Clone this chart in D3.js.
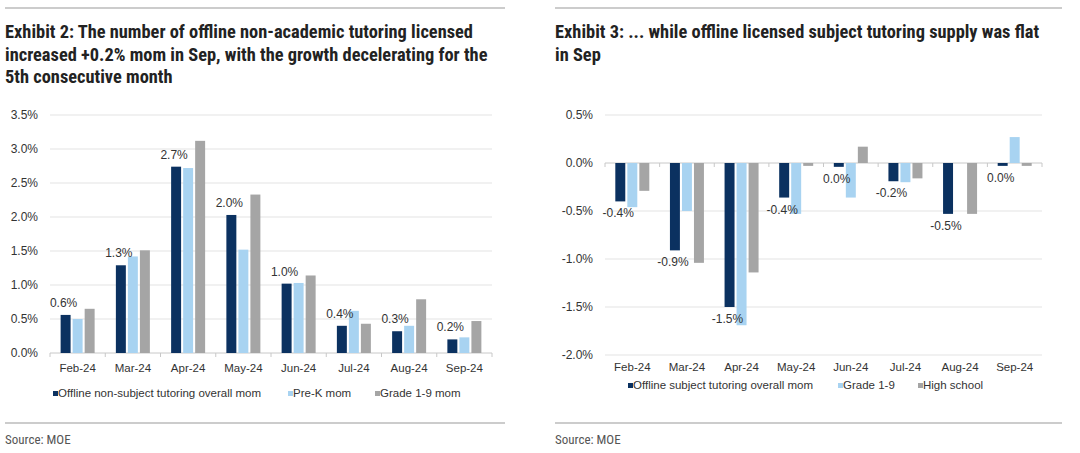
<!DOCTYPE html>
<html>
<head>
<meta charset="utf-8">
<script src="https://cdn.jsdelivr.net/npm/d3@7"></script>
<style>
  body { margin: 0; background: #fff; }
  svg { display: block; }
  .title { font-family: "Liberation Sans Narrow", "Roboto Condensed", "DejaVu Sans Condensed", "Liberation Sans", sans-serif; font-weight: bold; font-size: 18.4px; fill: #222; }
  .src { font-family: "Liberation Sans Narrow", "Roboto Condensed", "DejaVu Sans Condensed", "Liberation Sans", sans-serif; font-size: 13px; fill: #555; }
  .lbl { font-family: "Liberation Sans", Arial, sans-serif; font-size: 11.5px; fill: #333; }
  .tick { font-family: "Liberation Sans", Arial, sans-serif; font-size: 12px; fill: #333; }
</style>
</head>
<body>
<script>
// values, in percent
var months = ["Feb-24", "Mar-24", "Apr-24", "May-24", "Jun-24", "Jul-24", "Aug-24", "Sep-24"];

var leftSeries = ["Offline non-subject tutoring overall mom", "Pre-K mom", "Grade 1-9 mom"];
var leftOverall = [0.56, 1.29, 2.74, 2.03, 1.02, 0.40, 0.32, 0.20];
var leftPreK    = [0.50, 1.42, 2.72, 1.52, 1.03, 0.62, 0.40, 0.23];
var leftGrade19 = [0.65, 1.51, 3.12, 2.33, 1.14, 0.43, 0.79, 0.47];
var leftTicks = [0, 0.5, 1.0, 1.5, 2.0, 2.5, 3.0, 3.5];

var rightSeries = ["Offline subject tutoring overall mom", "Grade 1-9", "High school"];
var rightOverall = [-0.40, -0.91, -1.50, -0.36, -0.04, -0.19, -0.53, -0.03];
var rightGrade19 = [-0.46, -0.50, -1.69, -0.53, -0.36, -0.20, 0.00, 0.27];
var rightHigh    = [-0.29, -1.04, -1.14, -0.03, 0.17, -0.16, -0.53, -0.03];
var rightTicks = [0.5, 0, -0.5, -1.0, -1.5, -2.0];

var colors = ["#0b3160", "#a8d3f1", "#a5a5a5"];

var loc = d3.formatLocale({decimal: ".", thousands: ",", grouping: [3], currency: ["", ""], minus: "-"});
var pct = loc.format(".1%");

var svg = d3.select("body").append("svg")
    .attr("width", 1080)
    .attr("height", 453);

function drawPanel(opt) {
    var g = svg.append("g");

    // rules above and below
    g.append("line").attr("x1", opt.ruleX0).attr("x2", opt.ruleX1).attr("y1", 8).attr("y2", 8)
        .attr("stroke", "#999").attr("stroke-width", 1);
    g.append("line").attr("x1", opt.ruleX0).attr("x2", opt.ruleX1).attr("y1", 423).attr("y2", 423)
        .attr("stroke", "#999").attr("stroke-width", 1);

    // title
    var t = g.append("text").attr("class", "title");
    opt.title.forEach(function(s, i) {
        t.append("tspan").attr("x", opt.ruleX0).attr("y", 38 + i * 22.5).text(s);
    });

    g.append("text").attr("class", "src").attr("x", opt.ruleX0).attr("y", 444).text("Source: MOE");

    var x0 = d3.scaleBand().domain(months).range([opt.left, opt.right]);
    var bw = x0.bandwidth();
    var x1 = d3.scaleBand().domain([0, 1, 2]).range([(bw - 34) / 2, (bw + 34) / 2]).paddingInner(0.17);
    var y = d3.scaleLinear().domain(opt.domain).range([opt.bottom, opt.top]);

    // gridlines
    g.append("g").selectAll("line").data(opt.ticks).enter().append("line")
        .attr("x1", opt.left).attr("x2", opt.right)
        .attr("y1", function(d) { return y(d); }).attr("y2", function(d) { return y(d); })
        .attr("stroke", function(d) { return d === 0 ? "#c8c8c8" : "#e3e3e3"; })
        .attr("stroke-width", 1);

    // ticks along the zero line
    g.append("g").selectAll("line").data(d3.range(months.length + 1)).enter().append("line")
        .attr("x1", function(i) { return opt.left + i * bw; })
        .attr("x2", function(i) { return opt.left + i * bw; })
        .attr("y1", y(0)).attr("y2", y(0) + 4)
        .attr("stroke", "#c8c8c8");

    // y tick labels
    g.append("g").selectAll("text").data(opt.ticks).enter().append("text")
        .attr("class", "tick")
        .attr("x", opt.left - 12)
        .attr("y", function(d) { return y(d) + 4; })
        .attr("text-anchor", "end")
        .text(function(d) { return pct(d / 100); });

    // bars
    opt.values.forEach(function(vals, s) {
        g.append("g").selectAll("rect").data(vals).enter().append("rect")
            .attr("x", function(d, i) { return x0(months[i]) + x1(s); })
            .attr("width", x1.bandwidth())
            .attr("y", function(d) { return y(Math.max(0, d)); })
            .attr("height", function(d) { return Math.abs(y(d) - y(0)); })
            .attr("fill", colors[s]);
    });

    // data labels on first series
    g.append("g").selectAll("text").data(opt.values[0]).enter().append("text")
        .attr("class", "tick")
        .attr("text-anchor", "middle")
        .attr("x", function(d, i) { return x0(months[i]) + x1(0) + x1.bandwidth() / 2 - 2; })
        .attr("y", function(d) { return d >= 0 ? y(d) - 8 : y(d) + 16; })
        .text(function(d) { return pct(d / 100); });

    // category labels
    g.append("g").selectAll("text").data(months).enter().append("text")
        .attr("class", "lbl")
        .attr("text-anchor", "middle")
        .attr("x", function(d) { return x0(d) + bw / 2; })
        .attr("y", opt.catY)
        .text(function(d) { return d; });

    // legend
    var lg = g.append("g");
    opt.series.forEach(function(name, s) {
        lg.append("rect").attr("x", opt.legendX[s]).attr("y", opt.legendY - 6)
            .attr("width", 5).attr("height", 5).attr("fill", colors[s]);
        lg.append("text").attr("class", "lbl").attr("x", opt.legendX[s] + 5).attr("y", opt.legendY)
            .text(name);
    });
}

drawPanel({
    title: ["Exhibit 2: The number of offline non-academic tutoring licensed",
            "increased +0.2% mom in Sep, with the growth decelerating for the",
            "5th consecutive month"],
    ruleX0: 5, ruleX1: 505,
    left: 50, right: 492, top: 115, bottom: 353,
    domain: [0, 3.5], ticks: leftTicks,
    values: [leftOverall, leftPreK, leftGrade19],
    series: leftSeries,
    catY: 372,
    legendX: [53, 288, 375], legendY: 397
});

drawPanel({
    title: ["Exhibit 3: ... while offline licensed subject tutoring supply was flat",
            "in Sep"],
    ruleX0: 555, ruleX1: 1062,
    left: 605, right: 1042, top: 115, bottom: 355,
    domain: [-2.0, 0.5], ticks: rightTicks,
    values: [rightOverall, rightGrade19, rightHigh],
    series: rightSeries,
    catY: 371,
    legendX: [628, 838, 918], legendY: 389
});
</script>
</body>
</html>
